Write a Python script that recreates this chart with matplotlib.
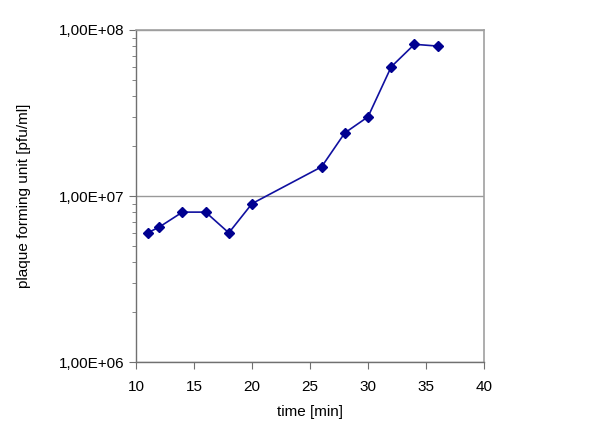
import numpy as np
import matplotlib.pyplot as plt
from matplotlib.ticker import FuncFormatter, LogLocator

plt.rcParams['font.family'] = ['Liberation Sans', 'DejaVu Sans']

# time in minutes and plaque forming units per ml
time_min = [11, 12, 14, 16, 18, 20, 26, 28, 30, 32, 34, 36]
pfu = [6.0e6, 6.5e6, 8.0e6, 8.0e6, 6.0e6, 9.0e6, 1.5e7, 2.4e7, 3.0e7, 6.0e7, 8.2e7, 8.0e7]

fig = plt.figure(figsize=(6, 4.41), dpi=100)
ax = fig.add_axes([0.2267, 0.179, 0.58, 0.753])

ax.plot(time_min, pfu, color="#1010a0", linewidth=1.2, marker="D",
        markersize=5.5, markerfacecolor="#000090", markeredgecolor="#000090")

ax.set_yscale("log")
ax.set_ylim(1e6, 1e8)
ax.set_xlim(10, 40)
ax.set_xticks([10, 15, 20, 25, 30, 35, 40])
ax.yaxis.set_major_locator(LogLocator(base=10, numticks=5))
ax.yaxis.set_minor_locator(LogLocator(base=10, subs=np.arange(2, 10), numticks=20))
ax.yaxis.set_major_formatter(FuncFormatter(lambda v, p: ("%.2E" % v).replace(".", ",")))
ax.yaxis.set_minor_formatter(FuncFormatter(lambda v, p: ""))

ax.yaxis.grid(True, which="major", color="#999999", linewidth=1)
ax.set_axisbelow(True)

for side in ["top", "right"]:
    ax.spines[side].set_color("#a0a0a0")
    ax.spines[side].set_linewidth(1.2)
for side in ["left", "bottom"]:
    ax.spines[side].set_color("#707070")
    ax.spines[side].set_linewidth(1)

ax.tick_params(axis="both", which="major", direction="out", length=5, color="#707070",
               labelsize=11, labelcolor="black")
ax.tick_params(axis="y", which="minor", direction="out", length=3, color="#707070")
ax.tick_params(axis="x", pad=8)

ax.set_xlabel("time [min]", fontsize=11, labelpad=8)
ax.set_ylabel("plaque forming unit [pfu/ml]", fontsize=11, labelpad=20)

fig.savefig("out.png", dpi=100)
